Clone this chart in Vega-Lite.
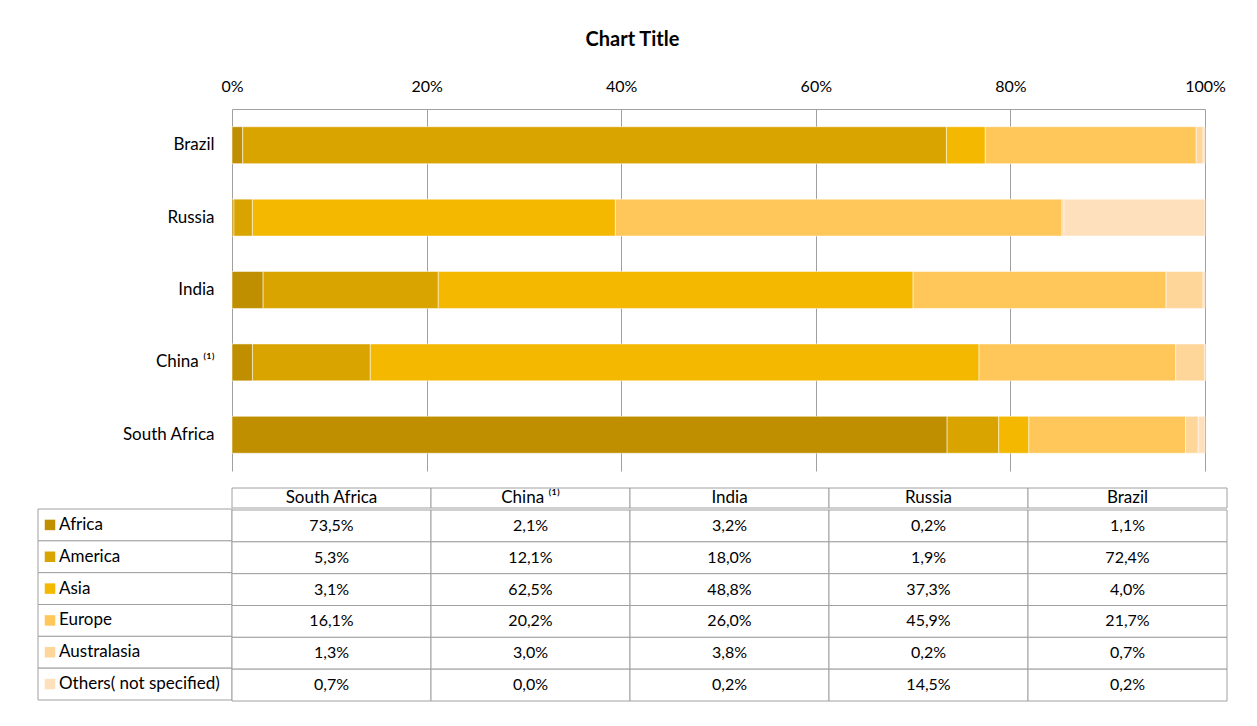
{
  "$schema": "https://vega.github.io/schema/vega-lite/v6.json",
  "padding": {"left": 37, "top": 30, "right": 10, "bottom": 10},
  "background": "white",
  "title": {"text": "Chart Title", "anchor": "middle", "fontSize": 20, "font": "Lato", "fontWeight": "bold", "color": "#000000", "offset": 28},
  "config": {
    "font": "Lato",
    "view": {"stroke": null},
    "locale": {"number": {"decimal": ",", "thousands": ".", "grouping": [3], "currency": ["", " €"]}}
  },
  "datasets": {
    "shares": [
      {"region": "Africa", "k": 1, "country": "South Africa", "v": 73.5},
      {"region": "Africa", "k": 1, "country": "China ⁽¹⁾", "v": 2.1},
      {"region": "Africa", "k": 1, "country": "India", "v": 3.2},
      {"region": "Africa", "k": 1, "country": "Russia", "v": 0.2},
      {"region": "Africa", "k": 1, "country": "Brazil", "v": 1.1},
      {"region": "America", "k": 2, "country": "South Africa", "v": 5.3},
      {"region": "America", "k": 2, "country": "China ⁽¹⁾", "v": 12.1},
      {"region": "America", "k": 2, "country": "India", "v": 18.0},
      {"region": "America", "k": 2, "country": "Russia", "v": 1.9},
      {"region": "America", "k": 2, "country": "Brazil", "v": 72.4},
      {"region": "Asia", "k": 3, "country": "South Africa", "v": 3.1},
      {"region": "Asia", "k": 3, "country": "China ⁽¹⁾", "v": 62.5},
      {"region": "Asia", "k": 3, "country": "India", "v": 48.8},
      {"region": "Asia", "k": 3, "country": "Russia", "v": 37.3},
      {"region": "Asia", "k": 3, "country": "Brazil", "v": 4.0},
      {"region": "Europe", "k": 4, "country": "South Africa", "v": 16.1},
      {"region": "Europe", "k": 4, "country": "China ⁽¹⁾", "v": 20.2},
      {"region": "Europe", "k": 4, "country": "India", "v": 26.0},
      {"region": "Europe", "k": 4, "country": "Russia", "v": 45.9},
      {"region": "Europe", "k": 4, "country": "Brazil", "v": 21.7},
      {"region": "Australasia", "k": 5, "country": "South Africa", "v": 1.3},
      {"region": "Australasia", "k": 5, "country": "China ⁽¹⁾", "v": 3.0},
      {"region": "Australasia", "k": 5, "country": "India", "v": 3.8},
      {"region": "Australasia", "k": 5, "country": "Russia", "v": 0.2},
      {"region": "Australasia", "k": 5, "country": "Brazil", "v": 0.7},
      {"region": "Others( not specified)", "k": 6, "country": "South Africa", "v": 0.7},
      {"region": "Others( not specified)", "k": 6, "country": "China ⁽¹⁾", "v": 0.0},
      {"region": "Others( not specified)", "k": 6, "country": "India", "v": 0.2},
      {"region": "Others( not specified)", "k": 6, "country": "Russia", "v": 14.5},
      {"region": "Others( not specified)", "k": 6, "country": "Brazil", "v": 0.2}
    ]
  },
  "columns": 2,
  "spacing": {"row": 17, "column": 0},
  "bounds": "flush",
  "align": "each",
  "resolve": {"scale": {"x": "independent", "y": "independent"}},
  "concat": [
    {
      "width": 194,
      "height": 362,
      "data": {"values": []},
      "mark": "point"
    },
    {
      "width": 973,
      "height": 362,
      "data": {"name": "shares"},
      "mark": {"type": "bar", "stroke": "white", "strokeWidth": 1, "strokeOpacity": 0.5},
      "encoding": {
        "y": {
          "field": "country", "type": "nominal",
          "sort": ["Brazil", "Russia", "India", "China ⁽¹⁾", "South Africa"],
          "scale": {"paddingInner": 0.49, "paddingOuter": 0.245},
          "axis": {"title": null, "ticks": false, "domain": false, "labelPadding": 18, "labelFontSize": 17, "labelColor": "#000000", "labelLimit": 300}
        },
        "x": {
          "field": "v", "type": "quantitative", "stack": "normalize",
          "scale": {"domain": [0, 1], "nice": false},
          "axis": {"orient": "top", "title": null, "format": ".0%", "values": [0, 0.2, 0.4, 0.6, 0.8, 1], "labelFlush": false, "ticks": false, "domain": true, "domainColor": "#a0a0a0", "grid": true, "gridColor": "#a0a0a0", "gridOpacity": 1, "labelPadding": 15, "labelFontSize": 16, "labelColor": "#000000"}
        },
        "color": {
          "field": "region", "type": "nominal",
          "scale": {
            "domain": ["Africa", "America", "Asia", "Europe", "Australasia", "Others( not specified)"],
            "range": ["#BF8F00", "#DAA400", "#F4B800", "#FFC65A", "#FFD699", "#FFE0BC"]
          },
          "legend": null
        },
        "order": {"field": "k", "type": "quantitative"}
      }
    },
    {
      "spacing": 0,
      "vconcat": [
        {
          "width": 194,
          "height": 20,
          "data": {"values": []},
          "mark": "point"
        },
        {
          "width": 194,
          "height": 191,
          "data": {"name": "shares"},
          "transform": [{"filter": "datum.country == 'South Africa'"}],
          "encoding": {
            "y": {
              "field": "region", "type": "nominal",
              "scale": {"domain": ["Africa", "America", "Asia", "Europe", "Australasia", "Others( not specified)"], "paddingInner": 0, "paddingOuter": 0},
              "axis": null
            }
          },
          "layer": [
            {"mark": {"type": "rect", "fill": "white", "stroke": "#a0a0a0", "strokeWidth": 1}},
            {
              "mark": {"type": "square", "size": 110, "opacity": 1, "xOffset": 12},
              "encoding": {
                "x": {"datum": "legend", "type": "nominal", "bandPosition": 0, "scale": {"type": "band", "paddingInner": 0, "paddingOuter": 0}, "axis": null},
                "color": {"field": "region", "type": "nominal", "legend": null,
                  "scale": {
                    "domain": ["Africa", "America", "Asia", "Europe", "Australasia", "Others( not specified)"],
                    "range": ["#BF8F00", "#DAA400", "#F4B800", "#FFC65A", "#FFD699", "#FFE0BC"]
                  }}
              }
            },
            {
              "mark": {"type": "text", "fontSize": 17, "color": "#000000", "align": "left", "dx": 21},
              "encoding": {
                "x": {"datum": "legend", "type": "nominal", "bandPosition": 0, "scale": {"type": "band", "paddingInner": 0, "paddingOuter": 0}, "axis": null},
                "text": {"field": "region"}
              }
            }
          ]
        }
      ]
    },
    {
      "spacing": 0,
      "vconcat": [
        {
          "width": 995,
          "height": 20,
          "data": {"name": "shares"},
          "transform": [{"filter": "datum.region == 'Africa'"}],
          "encoding": {
            "x": {
              "field": "country", "type": "nominal",
              "scale": {"type": "band", "domain": ["South Africa", "China ⁽¹⁾", "India", "Russia", "Brazil"], "paddingInner": 0, "paddingOuter": 0},
              "axis": null
            }
          },
          "layer": [
            {"mark": {"type": "rect", "fill": "white", "stroke": "#a0a0a0", "strokeWidth": 1}},
            {"mark": {"type": "text", "fontSize": 17, "color": "#000000", "baseline": "middle"}, "encoding": {"text": {"field": "country"}}}
          ]
        },
        {
          "width": 995,
          "height": 191,
          "data": {"name": "shares"},
          "encoding": {
            "x": {
              "field": "country", "type": "nominal",
              "scale": {"type": "band", "domain": ["South Africa", "China ⁽¹⁾", "India", "Russia", "Brazil"], "paddingInner": 0, "paddingOuter": 0},
              "axis": null
            },
            "y": {
              "field": "region", "type": "nominal",
              "scale": {"type": "band", "domain": ["Africa", "America", "Asia", "Europe", "Australasia", "Others( not specified)"], "paddingInner": 0, "paddingOuter": 0},
              "axis": null
            }
          },
          "layer": [
            {"mark": {"type": "rect", "fill": "white", "stroke": "#a0a0a0", "strokeWidth": 1}},
            {
              "transform": [{"calculate": "datum.v / 100", "as": "frac"}],
              "mark": {"type": "text", "fontSize": 16, "color": "#000000"},
              "encoding": {
                "text": {"field": "frac", "type": "quantitative", "format": ".1%"}
              }
            }
          ]
        }
      ]
    }
  ]
}
